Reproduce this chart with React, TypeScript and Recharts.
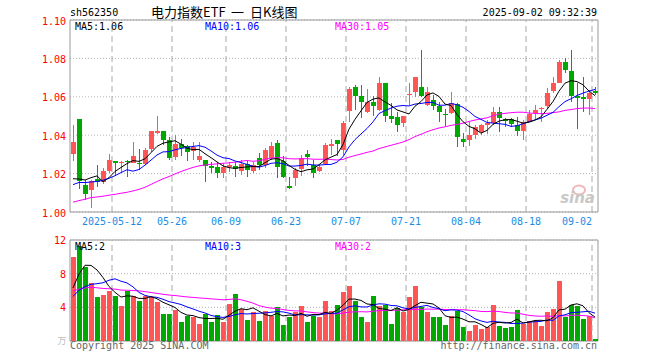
import React from 'react';
import { ComposedChart, Bar, Line, XAxis, YAxis, CartesianGrid, ReferenceLine, ReferenceArea } from 'recharts';

// ---- categories (trading days) ----
const dates = [
  '2025-04-28','2025-04-29','2025-04-30',
  '2025-05-06','2025-05-07','2025-05-08','2025-05-09',
  '2025-05-12','2025-05-13','2025-05-14','2025-05-15','2025-05-16',
  '2025-05-19','2025-05-20','2025-05-21','2025-05-22','2025-05-23',
  '2025-05-26','2025-05-27','2025-05-28','2025-05-29','2025-05-30',
  '2025-06-03','2025-06-04','2025-06-05','2025-06-06',
  '2025-06-09','2025-06-10','2025-06-11','2025-06-12','2025-06-13',
  '2025-06-16','2025-06-17','2025-06-18','2025-06-19','2025-06-20',
  '2025-06-23','2025-06-24','2025-06-25','2025-06-26','2025-06-27',
  '2025-06-30','2025-07-01','2025-07-02','2025-07-03','2025-07-04',
  '2025-07-07','2025-07-08','2025-07-09','2025-07-10','2025-07-11',
  '2025-07-14','2025-07-15','2025-07-16','2025-07-17','2025-07-18',
  '2025-07-21','2025-07-22','2025-07-23','2025-07-24','2025-07-25',
  '2025-07-28','2025-07-29','2025-07-30','2025-07-31','2025-08-01',
  '2025-08-04','2025-08-05','2025-08-06','2025-08-07','2025-08-08',
  '2025-08-11','2025-08-12','2025-08-13','2025-08-14','2025-08-15',
  '2025-08-18','2025-08-19','2025-08-20','2025-08-21','2025-08-22',
  '2025-08-25','2025-08-26','2025-08-27','2025-08-28','2025-08-29',
  '2025-09-01','2025-09-02',
];

// ---- OHLC ----
const opens = [
  1.0302,1.0484,1.0141,1.0117,1.0170,1.0156,1.0214,1.0266,1.0255,1.0266,
  1.0257,1.0256,1.0250,1.0326,1.0413,1.0422,1.0375,1.0284,1.0352,1.0344,
  1.0320,1.0271,1.0271,1.0240,1.0236,1.0205,1.0234,1.0240,1.0216,1.0248,
  1.0216,1.0283,1.0245,1.0283,1.0358,1.0266,1.0133,1.0175,1.0222,1.0302,
  1.0245,1.0214,1.0250,1.0346,1.0375,1.0323,1.0526,1.0653,1.0604,1.0522,
  1.0574,1.0531,1.0670,1.0500,1.0493,1.0465,1.0609,1.0625,1.0650,1.0557,
  1.0583,1.0554,1.0510,1.0514,1.0561,1.0380,1.0375,1.0401,1.0417,1.0453,
  1.0461,1.0522,1.0484,1.0482,1.0453,1.0423,1.0470,1.0518,1.0534,1.0552,
  1.0630,1.0672,1.0783,1.0734,1.0602,1.0597,1.0586,1.0632,
];
const highs = [
  1.0453,1.0484,1.0167,1.0167,1.0245,1.0230,1.0302,1.0266,1.0266,1.0270,
  1.0366,1.0328,1.0333,1.0422,1.0502,1.0422,1.0390,1.0401,1.0380,1.0349,
  1.0366,1.0366,1.0271,1.0262,1.0262,1.0255,1.0260,1.0262,1.0271,1.0266,
  1.0262,1.0307,1.0333,1.0366,1.0375,1.0292,1.0182,1.0229,1.0297,1.0323,
  1.0271,1.0245,1.0359,1.0378,1.0375,1.0475,1.0653,1.0661,1.0661,1.0641,
  1.0604,1.0705,1.0672,1.0569,1.0522,1.0500,1.0672,1.0703,1.0844,1.0651,
  1.0609,1.0574,1.0536,1.0627,1.0568,1.0410,1.0469,1.0453,1.0458,1.0479,
  1.0547,1.0547,1.0490,1.0490,1.0495,1.0479,1.0531,1.0557,1.0547,1.0644,
  1.0705,1.0792,1.0804,1.0844,1.0672,1.0705,1.0635,1.0653,
];
const lows = [
  1.0267,1.0120,1.0063,1.0021,1.0130,1.0146,1.0203,1.0190,1.0203,1.0183,
  1.0255,1.0219,1.0245,1.0313,1.0406,1.0349,1.0271,1.0271,1.0292,1.0266,
  1.0271,1.0260,1.0158,1.0203,1.0179,1.0177,1.0208,1.0182,1.0193,1.0182,
  1.0203,1.0219,1.0229,1.0271,1.0177,1.0177,1.0120,1.0133,1.0188,1.0240,
  1.0177,1.0208,1.0245,1.0297,1.0292,1.0297,1.0470,1.0531,1.0490,1.0517,
  1.0500,1.0526,1.0470,1.0462,1.0418,1.0441,1.0557,1.0599,1.0599,1.0552,
  1.0531,1.0470,1.0448,1.0510,1.0340,1.0340,1.0344,1.0380,1.0401,1.0406,
  1.0453,1.0418,1.0444,1.0443,1.0396,1.0375,1.0469,1.0484,1.0470,1.0542,
  1.0620,1.0672,1.0722,1.0573,1.0432,1.0522,1.0505,1.0609,
];
const closes = [
  1.0366,1.0163,1.0094,1.0161,1.0156,1.0214,1.0271,1.0255,1.0263,1.0258,
  1.0292,1.0250,1.0323,1.0422,1.0422,1.0375,1.0283,1.0354,1.0332,1.0315,
  1.0339,1.0292,1.0240,1.0228,1.0205,1.0236,1.0245,1.0224,1.0250,1.0219,
  1.0245,1.0245,1.0323,1.0344,1.0236,1.0184,1.0125,1.0221,1.0283,1.0285,
  1.0205,1.0236,1.0349,1.0354,1.0352,1.0465,1.0639,1.0604,1.0574,1.0571,
  1.0552,1.0670,1.0500,1.0483,1.0453,1.0500,1.0617,1.0702,1.0604,1.0625,
  1.0554,1.0522,1.0505,1.0566,1.0392,1.0366,1.0401,1.0441,1.0453,1.0464,
  1.0522,1.0487,1.0476,1.0458,1.0423,1.0469,1.0513,1.0531,1.0542,1.0618,
  1.0673,1.0783,1.0740,1.0606,1.0594,1.0589,1.0622,1.0618,
];
// volume (万手)
const volumes = [
  10.0,11.3,8.8,6.9,5.2,5.5,6.0,5.3,4.1,5.9,
  5.3,4.7,5.3,5.2,4.6,3.2,3.2,3.7,2.3,3.0,
  2.9,2.0,3.2,2.3,3.1,2.3,4.4,5.6,3.8,2.5,
  3.4,2.4,3.6,3.0,4.0,1.9,2.9,3.4,4.2,2.3,
  3.0,2.8,4.7,3.6,4.3,5.8,6.5,4.7,2.8,2.2,
  5.4,4.2,4.3,2.0,3.9,3.4,5.2,6.5,4.0,3.4,
  2.9,2.8,1.9,3.0,3.6,1.7,1.2,1.9,1.4,1.7,
  4.3,1.8,1.5,1.7,3.7,2.0,2.4,2.4,1.8,3.4,
  3.8,7.1,2.8,4.3,4.1,2.6,3.0,0.2,
];
// sessions before the visible window (estimated from where the MA lines start)
const earlierCloses = [
  0.992,0.988,0.990,1.006,1.010,1.011,1.012,1.009,1.011,1.008,
  1.001,0.999,0.998,0.997,0.995,0.993,0.994,0.996,0.998,1.003,
  1.005,1.010,1.013,1.013,1.015,1.017,1.012,1.010,1.011,
];
const earlierVolumes = [
  4.5,4.8,4.4,7.2,7.8,7.0,6.8,7.4,6.5,6.2,
  6.0,8.0,8.4,7.6,6.5,6.0,5.2,5.0,5.4,4.6,
  4.0,4.5,4.2,4.4,4.4,3.0,3.6,7.0,7.9,
];

const priceTicks = [1.0, 1.02, 1.04, 1.06, 1.08, 1.1];
const volumeTicks = [4, 8, 12];
const dateTicks = ['2025-05-12','2025-05-26','2025-06-09','2025-06-23','2025-07-07','2025-07-21','2025-08-04','2025-08-18','2025-09-02'];
const dateTickLabels = ['2025-05-12','05-26','06-09','06-23','07-07','07-21','08-04','08-18','09-02'];

const RED = '#ff5555';
const GREEN = '#00a800';
const MONO = '"DejaVu Sans Mono", "Liberation Mono", monospace';
const CJK = '"Noto Sans CJK SC", sans-serif';

function movingAverage(series: number[], history: number[], n: number): number[] {
  const all = history.concat(series);
  const off = history.length;
  return series.map((_, i) => {
    let s = 0;
    for (let k = off + i - n + 1; k <= off + i; k++) s += all[k];
    return s / n;
  });
}

const ma5 = movingAverage(closes, earlierCloses, 5);
const ma10 = movingAverage(closes, earlierCloses, 10);
const ma30 = movingAverage(closes, earlierCloses, 30);
const vma5 = movingAverage(volumes, earlierVolumes, 5);
const vma10 = movingAverage(volumes, earlierVolumes, 10);
const vma30 = movingAverage(volumes, earlierVolumes, 30);

const rows = dates.map((d, i) => ({
  date: d,
  open: opens[i],
  high: highs[i],
  low: lows[i],
  close: closes[i],
  range: [lows[i], highs[i]],
  up: closes[i] >= opens[i],
  ma5: ma5[i],
  ma10: ma10[i],
  ma30: ma30[i],
  volume: volumes[i],
  vma5: vma5[i],
  vma10: vma10[i],
  vma30: vma30[i],
}));

const last = rows.length - 1;

const Candle = (props: any) => {
  const { x, y, height, payload } = props;
  if (!payload || height == null) return null;
  const { open, close, high, low, up } = payload;
  const span = high - low || 1e-9;
  const pix = (v: number) => y + ((high - v) / span) * height;
  const left = Math.floor(x);
  const color = up ? RED : GREEN;
  const top = Math.round(pix(Math.max(open, close)));
  const bot = Math.round(pix(Math.min(open, close)));
  const wt = Math.round(pix(high));
  const wb = Math.round(pix(low));
  return (
    <g shapeRendering="crispEdges">
      <rect x={left + 2} y={wt} width={1} height={Math.max(1, wb - wt)} fill={color} />
      <rect x={left} y={top} width={5} height={Math.max(1, bot - top)} fill={color} />
    </g>
  );
};

const VolBar = (props: any) => {
  const { x, y, height, payload } = props;
  if (!payload) return null;
  const left = Math.floor(x);
  const t = Math.round(y);
  const b = Math.round(y + height);
  return <rect x={left} y={t} width={5} height={Math.max(1, b - t)} fill={payload.up ? RED : GREEN} shapeRendering="crispEdges" />;
};

const DateTick = (props: any) => {
  const { x, payload } = props;
  const idx = dateTicks.indexOf(payload.value);
  const isLast = idx === dateTicks.length - 1;
  return (
    <text x={x - 3} y={225} textAnchor={isLast ? 'end' : 'middle'} fill="#1a8ce6" fontSize={10} fontFamily={MONO}>
      {dateTickLabels[idx]}
    </text>
  );
};

const PriceTick = (props: any) => {
  const { y, payload } = props;
  return (
    <text x={66} y={y} dy={4.5} textAnchor="end" fill="#ff0000" fontSize={10} fontFamily={MONO}>
      {Number(payload.value).toFixed(2)}
    </text>
  );
};

const VolTick = (props: any) => {
  const { y, payload } = props;
  return (
    <text x={66} y={y} dy={4} textAnchor="end" fill="#ff0000" fontSize={10} fontFamily={MONO}>
      {String(payload.value)}
    </text>
  );
};

const gridLines = (prefix: string) =>
  dateTicks.map((d) => (
    <ReferenceLine key={prefix + d} x={d} position="start" stroke="#a8a8a8" strokeDasharray="6 4" ifOverflow="visible" />
  ));

export default function App() {
  const r = rows[last];
  return (
    <div style={{ position: 'absolute', left: 0, top: 0, width: 660, height: 360, background: '#fff', overflow: 'hidden' }}>
      <div style={{ position: 'absolute', left: 0, top: 0 }}>
        <ComposedChart width={660} height={232} data={rows} margin={{ top: 20, right: 62, bottom: 0, left: 0 }} barCategoryGap={0}>
          <CartesianGrid vertical={false} stroke="#b4b4b4" strokeDasharray="1 2" />
          <XAxis dataKey="date" ticks={dateTicks} interval={0} height={20} axisLine={false} tickLine={false} tick={(p: any) => <DateTick {...p} />} />
          <YAxis domain={[1.0, 1.1]} ticks={priceTicks} width={70} axisLine={false} tickLine={false} allowDataOverflow tick={(p: any) => <PriceTick {...p} />} />
          {gridLines('p')}
          <ReferenceArea y1={1.0} y2={1.1} fill="none" stroke="#999999" strokeWidth={1} />
          <Bar dataKey="range" barSize={5} isAnimationActive={false} shape={(p: any) => <Candle {...p} />} />
          <Line dataKey="ma30" type="linear" stroke="#ff00ff" strokeWidth={1} dot={false} activeDot={false} isAnimationActive={false} />
          <Line dataKey="ma10" type="linear" stroke="#0000ff" strokeWidth={1} dot={false} activeDot={false} isAnimationActive={false} />
          <Line dataKey="ma5" type="linear" stroke="#000000" strokeWidth={1} dot={false} activeDot={false} isAnimationActive={false} />
        </ComposedChart>
      </div>
      <div style={{ position: 'absolute', left: 0, top: 230 }}>
        <ComposedChart width={660} height={130} data={rows} margin={{ top: 10, right: 62, bottom: 19, left: 0 }} barCategoryGap={0}>
          <CartesianGrid vertical={false} stroke="#b4b4b4" strokeDasharray="1 2" />
          <XAxis dataKey="date" hide />
          <YAxis domain={[0, 12]} ticks={volumeTicks} width={70} axisLine={false} tickLine={false} allowDataOverflow tick={(p: any) => <VolTick {...p} />} />
          {gridLines('v')}
          <ReferenceArea y1={0} y2={12} fill="none" stroke="#999999" strokeWidth={1} />
          <Bar dataKey="volume" barSize={5} isAnimationActive={false} shape={(p: any) => <VolBar {...p} />} />
          <Line dataKey="vma30" type="linear" stroke="#ff00ff" strokeWidth={1} dot={false} activeDot={false} isAnimationActive={false} />
          <Line dataKey="vma10" type="linear" stroke="#0000ff" strokeWidth={1} dot={false} activeDot={false} isAnimationActive={false} />
          <Line dataKey="vma5" type="linear" stroke="#000000" strokeWidth={1} dot={false} activeDot={false} isAnimationActive={false} />
        </ComposedChart>
      </div>
      <svg width={660} height={360} style={{ position: 'absolute', left: 0, top: 0, pointerEvents: 'none' }}>
        <text x={70} y={16} fontSize={10} fontFamily={MONO} fill="#000">sh562350</text>
        <text y={17} fontSize={13} fontFamily={CJK} fill="#000">
          <tspan x={151}>电力指数ETF</tspan>
          <tspan x={231}>一</tspan>
          <tspan x={250}>日K线图</tspan>
        </text>
        <text x={597} y={16} fontSize={10} fontFamily={MONO} fill="#000" textAnchor="end">2025-09-02 09:32:39</text>
        <text x={75} y={30} fontSize={10} fontFamily={MONO} fill="#000">{'MA5:' + r.ma5.toFixed(2)}</text>
        <text x={205} y={30} fontSize={10} fontFamily={MONO} fill="#0000ff">{'MA10:' + r.ma10.toFixed(2)}</text>
        <text x={335} y={30} fontSize={10} fontFamily={MONO} fill="#ff00ff">{'MA30:' + r.ma30.toFixed(2)}</text>
        <text x={75} y={250} fontSize={10} fontFamily={MONO} fill="#000">{'MA5:' + Math.floor(r.vma5)}</text>
        <text x={205} y={250} fontSize={10} fontFamily={MONO} fill="#0000ff">{'MA10:' + Math.floor(r.vma10)}</text>
        <text x={335} y={250} fontSize={10} fontFamily={MONO} fill="#ff00ff">{'MA30:' + Math.floor(r.vma30)}</text>
        <text x={70} y={349} fontSize={10} fontFamily={MONO} fill="#666">Copyright 2025 SINA.COM</text>
        <text x={597} y={349} fontSize={10} fontFamily={MONO} fill="#666" textAnchor="end">http://finance.sina.com.cn</text>
        <text x={62} y={344} fontSize={9} fill="#bbb" fontFamily={CJK} textAnchor="middle">万</text>
        <ellipse cx={579} cy={190} rx={6} ry={4.5} fill="none" stroke="#f2b8b8" strokeWidth={2} />
        <text x={595} y={203} fontSize={15} fontWeight="bold" fontStyle="italic" fill="#c8c8c8" textAnchor="end" fontFamily="'DejaVu Sans', sans-serif">sina</text>
      </svg>
    </div>
  );
}
